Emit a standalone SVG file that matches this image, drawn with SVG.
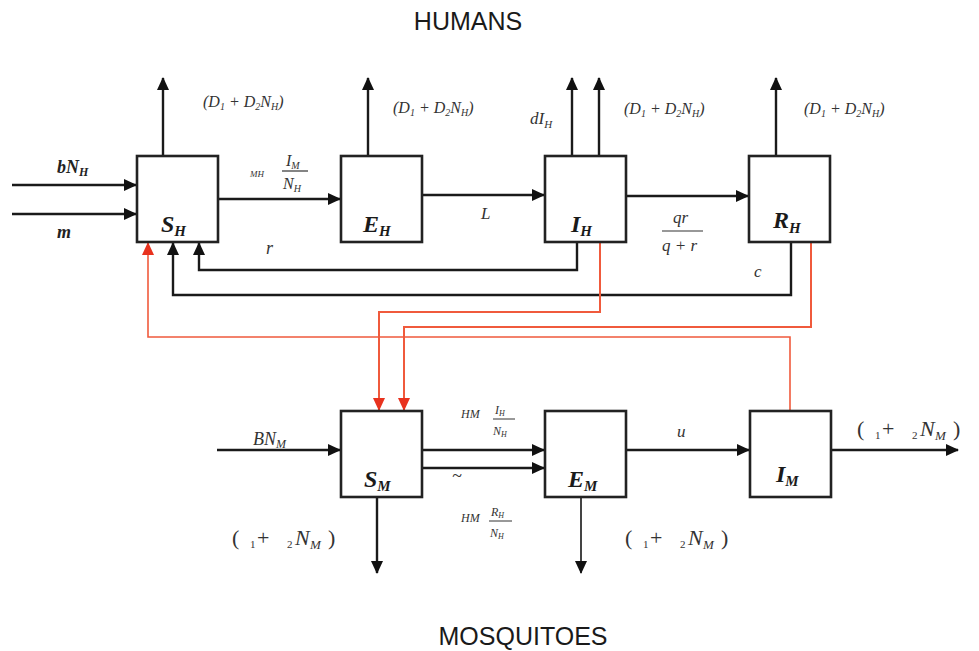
<svg xmlns="http://www.w3.org/2000/svg" width="979" height="651" viewBox="0 0 979 651">
<style>
.box{fill:#fff;stroke:#222;stroke-width:2.6}
.ln{fill:none;stroke:#1a1a1a;stroke-width:2.4}
.rd{fill:none;stroke:#f05a3c;stroke-width:2}
.title{font-family:"Liberation Sans",Arial,sans-serif;font-size:25px;fill:#1a1a1a}
.node{font-family:"Liberation Serif","Times New Roman",serif;font-weight:bold;font-style:italic;font-size:24px;fill:#1a1a1a}
.m{font-family:"Liberation Serif","Times New Roman",serif;font-style:italic;fill:#333}
.mb{font-family:"Liberation Serif","Times New Roman",serif;font-style:italic;font-weight:bold;fill:#222}
.mu{font-family:"Liberation Serif","Times New Roman",serif;fill:#333}
</style>
<defs>
<marker id="ah" markerUnits="userSpaceOnUse" markerWidth="14" markerHeight="12" refX="12" refY="6" orient="auto">
<path d="M0,0 L13,6 L0,12 z" fill="#111"/>
</marker>
<marker id="ahr" markerUnits="userSpaceOnUse" markerWidth="14" markerHeight="12" refX="12" refY="6" orient="auto">
<path d="M0,0 L13,6 L0,12 z" fill="#e8321e"/>
</marker>
</defs>
<text class="title" x="468" y="30" text-anchor="middle">HUMANS</text>
<text class="title" x="523" y="645" text-anchor="middle">MOSQUITOES</text>
<g id="connectors">
<path class="ln" d="M12,185 H136" marker-end="url(#ah)"/>
<path class="ln" d="M12,214 H136" marker-end="url(#ah)"/>
<path class="ln" d="M163,156 V78" marker-end="url(#ah)"/>
<path class="ln" d="M368,156 V78" marker-end="url(#ah)"/>
<path class="ln" d="M572,156 V78" marker-end="url(#ah)"/>
<path class="ln" d="M599,156 V78" marker-end="url(#ah)"/>
<path class="ln" d="M776,156 V78" marker-end="url(#ah)"/>
<path class="ln" d="M218,199 H340" marker-end="url(#ah)"/>
<path class="ln" d="M422,195 H544" marker-end="url(#ah)"/>
<path class="ln" d="M626,196 H748" marker-end="url(#ah)"/>
<path class="ln" d="M577,242 V270 H199 V243" marker-end="url(#ah)"/>
<path class="ln" d="M791,242 V295 H173 V243" marker-end="url(#ah)"/>
<path class="ln" d="M217,450 H340" marker-end="url(#ah)"/>
<path class="ln" d="M422,450 H544" marker-end="url(#ah)"/>
<path class="ln" d="M422,468 H544" marker-end="url(#ah)"/>
<path class="ln" d="M626,450 H749" marker-end="url(#ah)"/>
<path class="ln" d="M831,450 H958" marker-end="url(#ah)"/>
<path class="ln" d="M377,497 V573" marker-end="url(#ah)"/>
<path class="ln" d="M581,497 V573" style="stroke:#444;stroke-width:2" marker-end="url(#ah)"/>
<path class="rd" d="M600,242 V312 H379 V410" marker-end="url(#ahr)"/>
<path class="rd" d="M811,242 V327 H404 V410" marker-end="url(#ahr)"/>
<path class="rd" d="M790,411 V337 H148 V243" style="stroke-width:1.6" marker-end="url(#ahr)"/>
</g>
<g id="SH"><rect class="box" x="137" y="156" width="81" height="86"/><text class="node" x="161" y="232">S<tspan font-size="15" dy="4">H</tspan></text></g>
<g id="EH"><rect class="box" x="341" y="156" width="81" height="86"/><text class="node" x="363" y="232">E<tspan font-size="15" dy="4">H</tspan></text></g>
<g id="IH"><rect class="box" x="545" y="156" width="81" height="86"/><text class="node" x="571" y="232">I<tspan font-size="15" dy="4">H</tspan></text></g>
<g id="RH"><rect class="box" x="749" y="156" width="81" height="86"/><text class="node" x="773" y="228">R<tspan font-size="15" dy="5">H</tspan></text></g>
<g id="SM"><rect class="box" x="341" y="411" width="81" height="86"/><text class="node" x="364" y="487">S<tspan font-size="15" dy="4">M</tspan></text></g>
<g id="EM"><rect class="box" x="545" y="411" width="81" height="86"/><text class="node" x="568" y="487">E<tspan font-size="15" dy="4">M</tspan></text></g>
<g id="IM"><rect class="box" x="750" y="411" width="81" height="86"/><text class="node" x="776" y="482">I<tspan font-size="15" dy="4">M</tspan></text></g>
<g id="labels">
<text class="m" font-size="16" x="203" y="107">(D<tspan font-size="10" dy="3">1</tspan><tspan dy="-3"> + D</tspan><tspan font-size="10" dy="3">2</tspan><tspan dy="-3">N</tspan><tspan font-size="10" dy="3">H</tspan><tspan dy="-3">)</tspan></text>
<text class="m" font-size="16" x="393" y="113">(D<tspan font-size="10" dy="3">1</tspan><tspan dy="-3"> + D</tspan><tspan font-size="10" dy="3">2</tspan><tspan dy="-3">N</tspan><tspan font-size="10" dy="3">H</tspan><tspan dy="-3">)</tspan></text>
<text class="m" font-size="16" x="624" y="114">(D<tspan font-size="10" dy="3">1</tspan><tspan dy="-3"> + D</tspan><tspan font-size="10" dy="3">2</tspan><tspan dy="-3">N</tspan><tspan font-size="10" dy="3">H</tspan><tspan dy="-3">)</tspan></text>
<text class="m" font-size="16" x="804" y="114">(D<tspan font-size="10" dy="3">1</tspan><tspan dy="-3"> + D</tspan><tspan font-size="10" dy="3">2</tspan><tspan dy="-3">N</tspan><tspan font-size="10" dy="3">H</tspan><tspan dy="-3">)</tspan></text>
<text class="m" font-size="17" x="530" y="124">dI<tspan font-size="11" dy="4">H</tspan></text>
<text class="mb" font-size="18" x="57" y="173">bN<tspan font-size="12" dy="3">H</tspan></text>
<text class="mb" font-size="18" x="57" y="238">m</text>
<text class="m" font-size="9" x="250" y="177">MH</text>
<text class="m" font-size="16" x="286" y="166">I<tspan font-size="10" dy="3">M</tspan></text>
<line x1="282" y1="171" x2="308" y2="171" stroke="#333" stroke-width="1.2"/>
<text class="m" font-size="16" x="283" y="189">N<tspan font-size="10" dy="3">H</tspan></text>
<text class="m" font-size="17" x="481" y="219">L</text>
<text class="m" font-size="18" x="266" y="254">r</text>
<text class="m" font-size="17" x="673" y="223">qr</text>
<line x1="662" y1="231" x2="703" y2="231" stroke="#333" stroke-width="1.2"/>
<text class="m" font-size="17" x="662" y="251">q + r</text>
<text class="m" font-size="17" x="754" y="277">c</text>
<text class="m" font-size="18" x="253" y="445">BN<tspan font-size="12" dy="3">M</tspan></text>
<text class="m" font-size="12" x="461" y="418">HM</text>
<text class="m" font-size="12" x="495" y="414">I<tspan font-size="8" dy="2">H</tspan></text>
<line x1="493" y1="419" x2="515" y2="419" stroke="#333" stroke-width="1"/>
<text class="m" font-size="12" x="493" y="435">N<tspan font-size="8" dy="2">H</tspan></text>
<text class="m" font-size="18" x="452" y="482">~</text>
<text class="m" font-size="12" x="461" y="522">HM</text>
<text class="m" font-size="12" x="491" y="516">R<tspan font-size="8" dy="2">H</tspan></text>
<line x1="489" y1="521" x2="512" y2="521" stroke="#333" stroke-width="1"/>
<text class="m" font-size="12" x="490" y="537">N<tspan font-size="8" dy="2">H</tspan></text>
<text class="m" font-size="17" x="677" y="437">u</text>
<text class="mu" font-size="22" y="545"><tspan x="232">(</tspan><tspan x="250" font-size="11" dy="3">1</tspan><tspan x="257" dy="-3">+</tspan><tspan x="287" font-size="11" dy="3">2</tspan><tspan x="295" dy="-3" font-style="italic">N</tspan><tspan x="310" font-size="13" dy="4" font-style="italic">M</tspan><tspan x="328" dy="-4">)</tspan></text>
<text class="mu" font-size="22" y="545"><tspan x="625">(</tspan><tspan x="643" font-size="11" dy="3">1</tspan><tspan x="650" dy="-3">+</tspan><tspan x="680" font-size="11" dy="3">2</tspan><tspan x="688" dy="-3" font-style="italic">N</tspan><tspan x="703" font-size="13" dy="4" font-style="italic">M</tspan><tspan x="721" dy="-4">)</tspan></text>
<text class="mu" font-size="22" y="436"><tspan x="857">(</tspan><tspan x="875" font-size="11" dy="3">1</tspan><tspan x="882" dy="-3">+</tspan><tspan x="912" font-size="11" dy="3">2</tspan><tspan x="920" dy="-3" font-style="italic">N</tspan><tspan x="935" font-size="13" dy="4" font-style="italic">M</tspan><tspan x="953" dy="-4">)</tspan></text>
</g>
</svg>
